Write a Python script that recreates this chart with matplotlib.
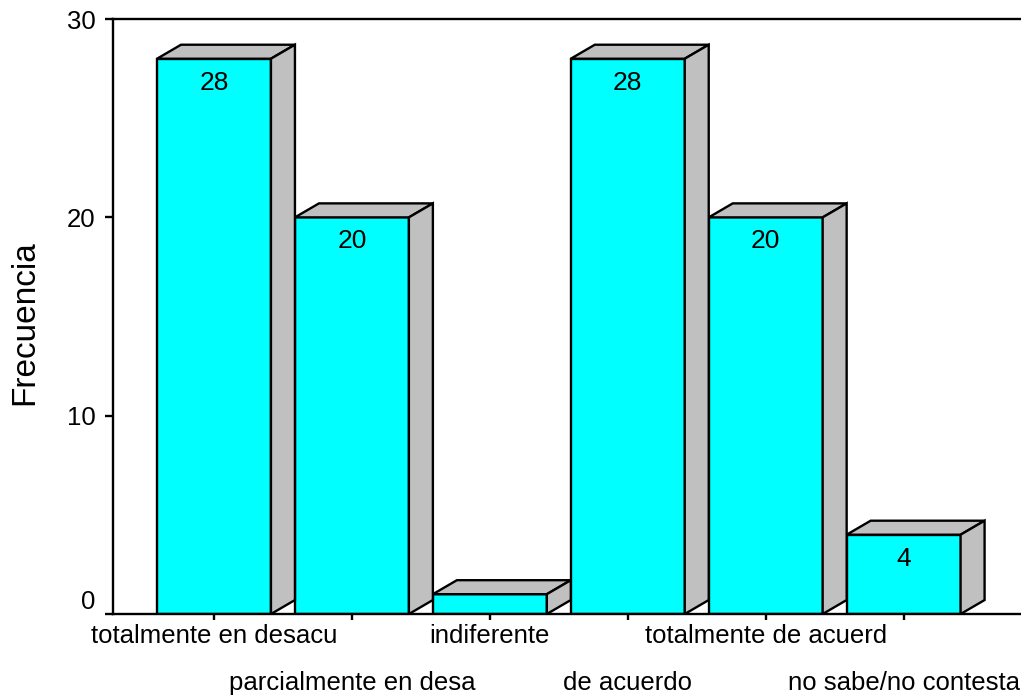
import matplotlib
matplotlib.use("Agg")
import matplotlib.pyplot as plt
from matplotlib.patches import Polygon

plt.rcParams['font.family'] = ['Liberation Sans', 'DejaVu Sans']

# datos
categorias = ["totalmente en desacu", "parcialmente en desa", "indiferente",
              "de acuerdo", "totalmente de acuerd", "no sabe/no contesta"]
frecuencias = [28, 20, 1, 28, 20, 4]
yticks = [0, 10, 20, 30]

fig = plt.figure(figsize=(10.21, 6.98), dpi=100)
ax = fig.add_axes([0.1107, 0.1203, 0.8893, 0.8524])

x = list(range(len(categorias)))
ancho = 0.826
dx = 0.174   # profundidad 3D en unidades x
dy = 0.706   # profundidad 3D en unidades y

cian = "#00FFFF"
gris = "#C0C0C0"
lw = 1.7

ax.bar(x, frecuencias, width=ancho, color=cian, edgecolor="black",
       linewidth=lw, zorder=2)

for xi, v in zip(x, frecuencias):
    izq = xi - ancho / 2
    der = xi + ancho / 2
    techo = Polygon([(izq, v), (izq + dx, v + dy), (der + dx, v + dy), (der, v)],
                    closed=True, facecolor=gris, edgecolor="black",
                    linewidth=lw, zorder=2, joinstyle="miter")
    lado = Polygon([(der, 0), (der + dx, dy), (der + dx, v + dy), (der, v)],
                   closed=True, facecolor=gris, edgecolor="black",
                   linewidth=lw, zorder=2, joinstyle="miter")
    ax.add_patch(techo)
    ax.add_patch(lado)
    if v >= 2:
        ax.annotate(str(v), xy=(xi, v), xytext=(0, -17.3),
                    textcoords="offset points", ha="center", va="center",
                    fontsize=19, zorder=3)

ax.set_xlim(-0.732, 5.851)
ax.set_ylim(0, 30)

# etiquetas del eje x en dos filas
ax.set_xticks(x[0::2], categorias[0::2])
ax.set_xticks(x[1::2], categorias[1::2], minor=True)
ax.tick_params(axis="x", which="major", length=4, width=lw, pad=3, labelsize=18.5)
ax.tick_params(axis="x", which="minor", length=4, width=lw, pad=36.8, labelsize=18.5)

ax.set_yticks(yticks, [""] + [str(t) for t in yticks[1:]])
ax.tick_params(axis="y", length=6, width=lw, pad=6.5, labelsize=18.5)
# el "0" aparece un poco por encima de su marca
ax.annotate(str(yticks[0]), xy=(0, yticks[0]), xycoords=ax.get_yaxis_transform(),
            xytext=(-12.5, 8.6), textcoords="offset points",
            ha="right", va="center", fontsize=18.5)

fig.text(25 / 1021, 1 - 323 / 698, "Frecuencia", rotation=90,
         ha="center", va="center", fontsize=24)

for s in ["left", "bottom", "top"]:
    ax.spines[s].set_linewidth(lw)
ax.spines["right"].set_visible(False)

fig.savefig("out.png", dpi=100)
